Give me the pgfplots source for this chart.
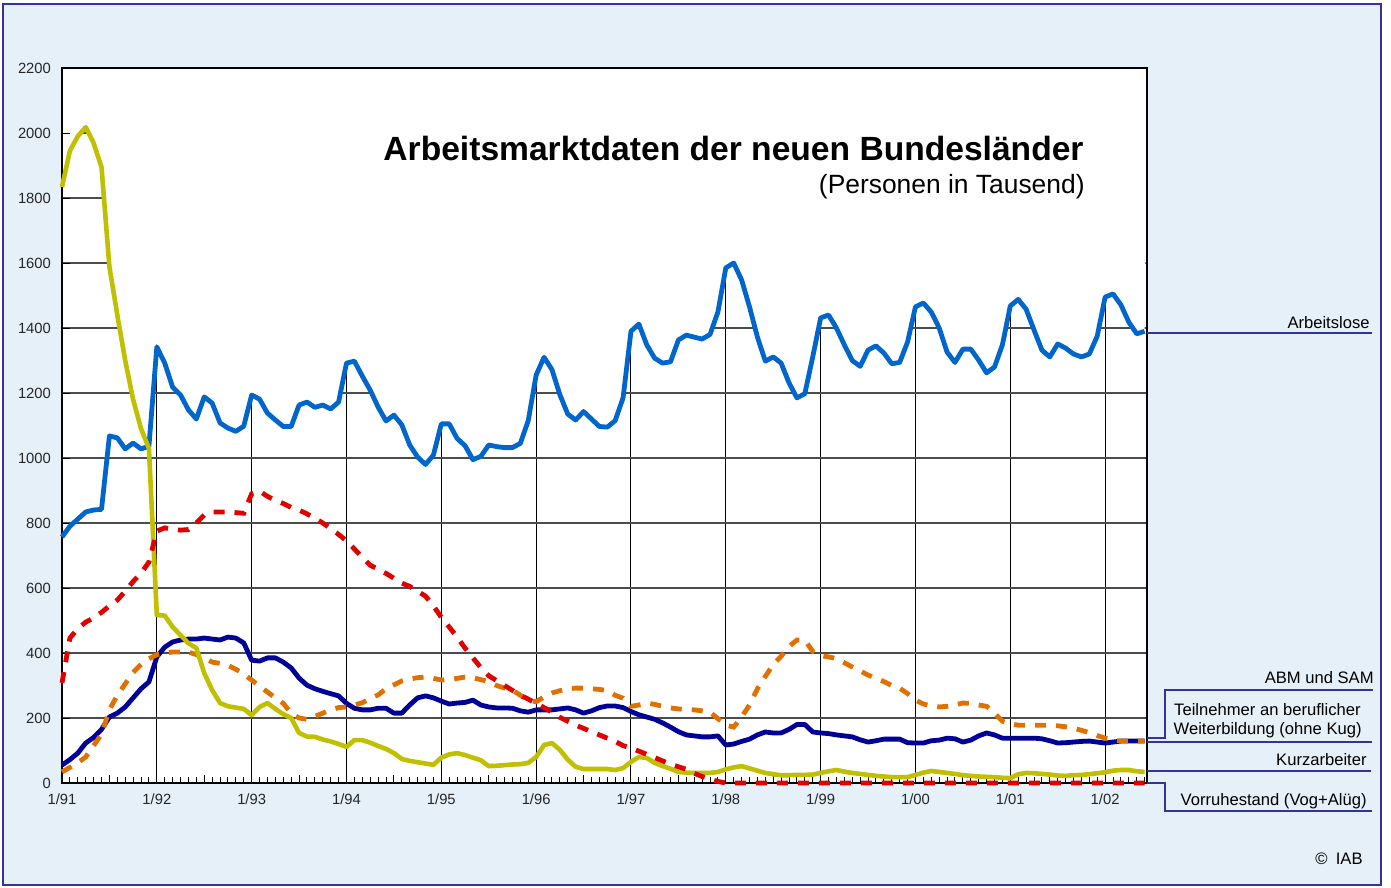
\documentclass[border=0pt]{standalone}
\usepackage{fontspec}
\setmainfont{Liberation Sans}
\usepackage{pgfplots}
\usepackage{pgfplotstable}
\pgfplotsset{compat=1.18}
\usepgfplotslibrary{fillbetween}

\definecolor{bgblue}{RGB}{230,240,248}
\definecolor{frameblue}{RGB}{51,51,153}
\definecolor{alblue}{RGB}{0,102,204}
\definecolor{abmnavy}{RGB}{0,0,153}
\definecolor{weiorange}{RGB}{224,112,0}
\definecolor{kuryellow}{RGB}{192,192,0}
\definecolor{vorred}{RGB}{224,0,0}

% pre main (where fill between goes) sits just above the grid,
% so the white fill above the curves hides the grid but not ticks or axis lines
\pgfplotsset{
  layers/gridmask/.define layer set={axis background,axis grid,pre main,axis ticks,axis lines,axis tick labels,main,axis descriptions,axis foreground}{
    grid style={/pgfplots/on layer=axis grid},
    tick style={/pgfplots/on layer=axis ticks},
    axis line style={/pgfplots/on layer=axis lines},
    label style={/pgfplots/on layer=axis descriptions},
    legend style={/pgfplots/on layer=axis descriptions},
    title style={/pgfplots/on layer=axis descriptions},
    colorbar style={/pgfplots/on layer=axis descriptions},
    ticklabel style={/pgfplots/on layer=axis tick labels},
    axis background@ style={/pgfplots/on layer=axis background},
    3d box foreground style={/pgfplots/on layer=axis foreground},
  },
}

% m = months since 1/91; A Arbeitslose, K Kurzarbeiter, B ABM und SAM,
% T Weiterbildung, V Vorruhestand (thousands)
\pgfplotstableread{
m A K B T V
0 757 1834 55 34 308
1 790 1945 72 48 446
2 812 1990 92 62 475
3 834 2018 123 80 495
4 840 1969 140 115 508
5 842 1895 165 150 525
6 1068 1588 203 225 545
7 1062 1440 215 270 563
8 1028 1300 234 305 590
9 1046 1180 262 340 620
10 1028 1090 290 365 645
11 1036 1030 311 382 680
12 1342 517 388 395 775
13 1292 515 418 400 785
14 1218 480 434 403 780
15 1194 455 440 403 778
16 1148 430 443 403 780
17 1120 415 443 395 800
18 1188 338 446 385 825
19 1169 286 443 372 834
20 1108 246 440 368 834
21 1092 236 449 362 834
22 1082 232 446 350 832
23 1098 228 431 335 830
24 1194 209 378 317 890
25 1181 234 375 298 898
26 1138 246 385 280 882
27 1117 228 385 262 870
28 1097 212 372 245 860
29 1097 200 354 215 848
30 1163 154 323 200 840
31 1172 143 301 196 828
32 1156 142 290 205 815
33 1163 134 282 215 800
34 1151 128 275 225 783
35 1172 120 268 232 765
36 1292 111 245 234 745
37 1298 132 230 240 720
38 1252 132 225 247 695
39 1209 124 225 260 670
40 1157 114 230 271 658
41 1114 105 230 290 645
42 1132 92 215 302 630
43 1102 74 215 314 615
44 1040 68 240 320 605
45 1003 64 262 324 590
46 980 60 268 326 575
47 1009 56 262 322 545
48 1105 78 252 317 510
49 1105 88 243 318 480
50 1060 92 246 322 449
51 1038 86 248 326 415
52 995 78 255 324 385
53 1005 70 240 318 355
54 1040 52 234 312 330
55 1035 53 231 300 315
56 1032 55 231 292 300
57 1032 57 230 286 285
58 1045 58 222 270 270
59 1115 62 218 255 258
60 1255 80 225 250 245
61 1310 117 225 265 232
62 1272 123 225 277 218
63 1195 102 228 284 202
64 1135 72 231 290 190
65 1117 50 225 292 178
66 1143 43 215 292 168
67 1120 43 222 290 158
68 1097 43 232 288 148
69 1095 43 237 284 138
70 1115 40 237 270 128
71 1185 46 232 261 115
72 1390 65 220 236 108
73 1412 80 210 240 98
74 1348 77 203 246 88
75 1307 62 196 242 78
76 1292 52 185 236 68
77 1296 44 172 231 58
78 1363 34 158 228 50
79 1378 32 148 226 42
80 1372 31 145 225 30
81 1366 31 142 222 20
82 1380 31 142 218 12
83 1449 34 145 198 5
84 1585 42 117 178 0
85 1600 48 120 172 0
86 1548 52 128 203 0
87 1465 45 135 240 0
88 1372 38 148 290 0
89 1298 31 157 328 0
90 1311 27 154 365 0
91 1292 24 154 390 0
92 1231 24 165 420 0
93 1185 25 180 440 0
94 1198 25 180 440 0
95 1311 26 157 405 0
96 1431 31 154 392 0
97 1440 36 152 388 0
98 1400 40 148 383 0
99 1348 35 145 370 0
100 1300 31 142 357 0
101 1282 28 133 345 0
102 1332 25 126 332 0
103 1345 22 130 323 0
104 1323 20 135 312 0
105 1290 18 135 300 0
106 1294 18 135 292 0
107 1357 18 124 275 0
108 1465 25 123 255 0
109 1477 32 123 243 0
110 1449 37 130 237 0
111 1400 34 132 234 0
112 1326 31 138 236 0
113 1294 28 136 240 0
114 1335 24 126 246 0
115 1335 22 132 245 0
116 1301 20 145 240 0
117 1262 19 154 236 0
118 1280 18 148 215 0
119 1348 16 138 190 0
120 1468 15 138 182 0
121 1488 27 138 178 0
122 1458 31 138 178 0
123 1394 30 138 178 0
124 1332 28 136 178 0
125 1311 26 130 178 0
126 1351 23 123 176 0
127 1338 22 124 173 0
128 1320 24 126 169 0
129 1311 25 128 162 0
130 1320 27 129 155 0
131 1375 30 126 146 0
132 1495 33 123 138 0
133 1505 38 126 132 0
134 1471 40 129 129 0
135 1418 40 129 129 0
136 1382 36 129 129 0
137 1390 34 129 129 0
}\data

\begin{document}
\begin{tikzpicture}
% page size (1 px of the reference = 0.5pt)
\begin{scope}[x=0.5pt,y=-0.5pt]
  \path (0,0) rectangle (1391,888);
\end{scope}

\begin{axis}[
  at={(31pt,-391.5pt)}, anchor=south west,
  scale only axis, width=542.5pt, height=357.5pt,
  set layers=gridmask,
  xmin=0, xmax=137.3, ymin=0, ymax=2200,
  axis background/.style={fill=white},
  clip=false, no markers,
  ytick={0,200,...,2200},
  xtick={0,12,...,132},
  xticklabels={1/91,1/92,1/93,1/94,1/95,1/96,1/97,1/98,1/99,1/00,1/01,1/02},
  minor xtick={1,...,137},
  extra x ticks={6,18,...,126},
  extra x tick labels={},
  extra x tick style={grid=none, major tick length=4pt},
  tick align=inside,
  xtick pos=left, ytick pos=left,
  major tick length=4pt, minor tick length=2.8pt,
  grid=major,
  major x grid style={black, line width=0.5pt},
  major y grid style={black!70, line width=0.6pt},
  tick style={black, line width=0.5pt},
  axis line style={black, line width=0.6pt},
  ticklabel style={font=\fontsize{7.4}{8}\selectfont, text=black!85},
  yticklabel style={xshift=-2pt},
  xticklabel style={yshift=-2pt},
  /pgf/number format/assume math mode=true,
  /pgf/number format/1000 sep={},
]
% light blue panel round the plot area (even odd: the plot area stays white)
\begin{pgfonlayer}{axis background}
  \fill[bgblue, even odd rule]
    (rel axis cs:-0.05438,-0.14266) rectangle (rel axis cs:1.21567,1.08951)
    (rel axis cs:0,0) rectangle (rel axis cs:1,1);
\end{pgfonlayer}

\addplot[alblue, line width=2.4pt, line join=round, name path=A] table[x=m,y=A] {\data};
\addplot[abmnavy, line width=2.4pt, line join=round] table[x=m,y=B] {\data};
\addplot[weiorange, line width=2.4pt, dash pattern=on 5.5pt off 5pt] table[x=m,y=T] {\data};
\addplot[kuryellow, line width=2.3pt, line join=round, name path=K] table[x=m,y=K] {\data};
\addplot[vorred, line width=2.4pt, dash pattern=on 5.5pt off 5pt] table[x=m,y=V] {\data};

% white above the upper curve: the grid shows only below it
\path[name path=top] (axis cs:0,2200) -- (axis cs:137.3,2200);
\addplot[fill=white, draw=none] fill between[of=top and A, soft clip={domain=11:137.3}];
\addplot[fill=white, draw=none] fill between[of=top and K, soft clip={domain=0:11}];

\begin{pgfonlayer}{axis lines}
  \draw[black, line width=0.6pt] (rel axis cs:0,1) -- (rel axis cs:1,1) -- (rel axis cs:1,0);
  \draw[black, line width=1.1pt] (rel axis cs:0,0) -- (rel axis cs:1,0);
\end{pgfonlayer}
\end{axis}

\begin{scope}[x=0.5pt,y=-0.5pt]
  \draw[frameblue, line width=1pt] (3,4) rectangle (1381,885);
  \node[anchor=base east, inner sep=0pt, font=\bfseries\fontsize{16.8}{18}\selectfont] at (1084,161) {Arbeitsmarktdaten der neuen Bundesländer};
  \node[anchor=base east, inner sep=0pt, font=\fontsize{13.2}{15}\selectfont] at (1085,193) {(Personen in Tausend)};

  \begin{scope}[frameblue, line width=0.6pt]
    \draw (1147,333) -- (1372,333);
    \draw (1147,738) -- (1165,738) -- (1165,690) -- (1373,690);
    \draw (1147,742) -- (1372,742);
    \draw (1147,771) -- (1371,771);
    \draw (1147,783) -- (1165,783) -- (1165,811) -- (1372,811);
  \end{scope}

  \begin{scope}[every node/.style={anchor=base east, inner sep=0pt, font=\fontsize{8.3}{10}\selectfont}]
    \node at (1370,328) {Arbeitslose};
    \node at (1374,683) {ABM und SAM};
    \node at (1361,715) {Teilnehmer an beruflicher};
    \node at (1362,734) {Weiterbildung (ohne Kug)};
    \node at (1367,765) {Kurzarbeiter};
    \node at (1367,805) {Vorruhestand (Vog+Alüg)};
    \node at (1363,864) {©\enspace IAB};
  \end{scope}
\end{scope}
\end{tikzpicture}
\end{document}
